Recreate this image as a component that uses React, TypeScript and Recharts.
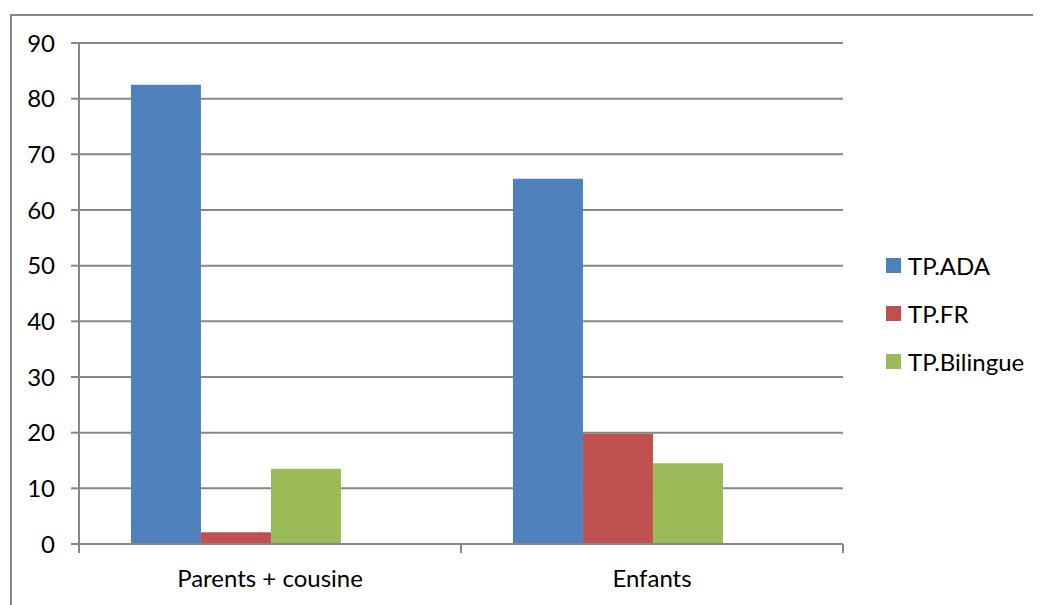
import { BarChart, Bar, XAxis, YAxis, CartesianGrid, Legend } from "recharts";

const categories = ["Parents + cousine", "Enfants"];
const tpAda = [82.5, 65.6];
const tpFr = [2.1, 19.8];
const tpBilingue = [13.5, 14.5];
const yTicks = [0, 10, 20, 30, 40, 50, 60, 70, 80, 90];

const COLORS = { ada: "#4F81BD", fr: "#C0504D", bil: "#9BBB59" };
const AXIS = "#878787";
const FONT = "Lato, 'Open Sans', sans-serif";
const FONT_SIZE = 24;

const series = [
  { key: "ada", name: "TP.ADA", color: COLORS.ada },
  { key: "fr", name: "TP.FR", color: COLORS.fr },
  { key: "bil", name: "TP.Bilingue", color: COLORS.bil },
];

const data = categories.map((name, i) => ({
  name,
  ada: tpAda[i],
  fr: tpFr[i],
  bil: tpBilingue[i],
}));

// category labels, with tick marks on the band edges instead of the centre
function CategoryTick(props: any) {
  const { x, y, payload, index } = props;
  const half = payload?.offset ?? 0;
  const last = index === categories.length - 1;
  return (
    <g>
      <line x1={x - half} y1={y - 8} x2={x - half} y2={y + 1} stroke={AXIS} strokeWidth={2} />
      {last && <line x1={x + half} y1={y - 8} x2={x + half} y2={y + 1} stroke={AXIS} strokeWidth={2} />}
      <text x={x} y={y + 35} textAnchor="middle" fill="#000" fontSize={FONT_SIZE} fontFamily={FONT}>
        {payload.value}
      </text>
    </g>
  );
}

function SeriesLegend() {
  return (
    <div style={{ fontFamily: FONT, fontSize: FONT_SIZE, color: "#000" }}>
      {series.map((s) => (
        <div key={s.key} style={{ height: 48, display: "flex", alignItems: "center" }}>
          <span style={{ width: 15, height: 15, background: s.color, marginRight: 7, display: "inline-block" }} />
          <span>{s.name}</span>
        </div>
      ))}
    </div>
  );
}

export default function App() {
  return (
    <div
      style={{
        marginTop: 6,
        marginLeft: 2,
        width: 1040,
        height: 600,
        borderTop: `2px solid ${AXIS}`,
        borderLeft: `2px solid ${AXIS}`,
        background: "#fff",
      }}
    >
      <BarChart
        width={1029}
        height={589}
        data={data}
        margin={{ top: 27, right: 198, bottom: 31, left: 0 }}
        barCategoryGap="13.6%"
        barGap={0}
      >
        <CartesianGrid vertical={false} stroke={AXIS} strokeWidth={2} />
        <XAxis
          dataKey="name"
          height={30}
          axisLine={{ stroke: AXIS, strokeWidth: 2 }}
          tickLine={false}
          tick={<CategoryTick />}
          interval={0}
        />
        <YAxis
          width={67}
          domain={[0, 90]}
          ticks={yTicks}
          interval={0}
          axisLine={{ stroke: AXIS, strokeWidth: 2 }}
          tickLine={{ stroke: AXIS, strokeWidth: 2 }}
          tickSize={8}
          tickMargin={16}
          tick={{ fill: "#000", fontSize: FONT_SIZE, fontFamily: FONT }}
        />
        <Legend
          layout="horizontal"
          verticalAlign="middle"
          align="center"
          content={<SeriesLegend />}
          wrapperStyle={{ position: "absolute", left: 874, top: 225, width: 160 }}
        />
        {series.map((s) => (
          <Bar key={s.key} dataKey={s.key} name={s.name} fill={s.color} isAnimationActive={false} />
        ))}
        {/* empty fourth slot keeps the three bars offset left in each group */}
        <Bar dataKey="none" legendType="none" fill="transparent" isAnimationActive={false} />
      </BarChart>
    </div>
  );
}
